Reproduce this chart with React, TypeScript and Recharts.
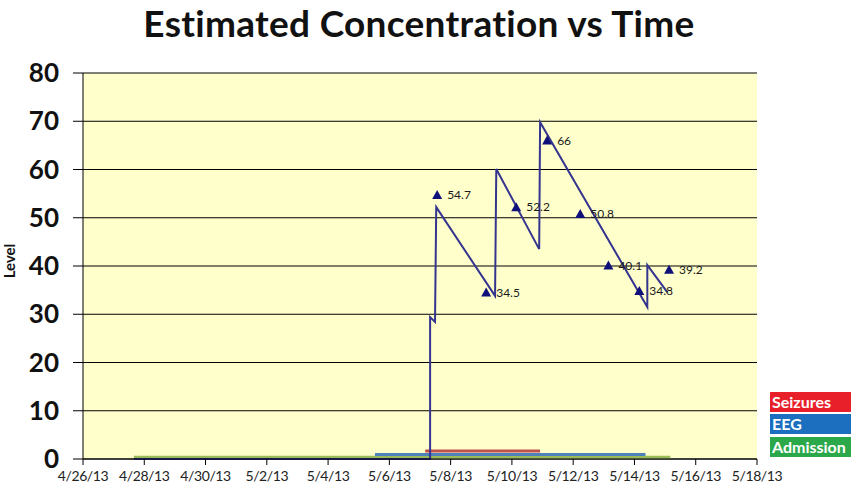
import { ComposedChart, Line, XAxis, YAxis, CartesianGrid } from 'recharts';

// days counted from 4/26/13
const tickDays = [0, 2, 4, 6, 8, 10, 12, 14, 16, 18, 20, 22];
const tickLabels = ['4/26/13', '4/28/13', '4/30/13', '5/2/13', '5/4/13', '5/6/13', '5/8/13', '5/10/13', '5/12/13', '5/14/13', '5/16/13', '5/18/13'];
const levelTicks = [0, 10, 20, 30, 40, 50, 60, 70, 80];

// estimated concentration curve (day, level)
const curveDays = [1.66, 11.33, 11.33, 11.49, 11.53, 13.45, 13.49, 14.89, 14.92, 18.42, 18.42, 19.07];
const curveLevels = [0, 0, 29.4, 28.4, 52.2, 33.8, 60.1, 43.5, 69.8, 31.5, 40.2, 34.6];

// measured levels
const measuredDays = [11.56, 13.16, 14.14, 15.15, 16.23, 17.15, 18.16, 19.13];
const measuredLevels = [54.7, 34.5, 52.2, 66, 50.8, 40.1, 34.8, 39.2];

// timeline bars: [start, end, level]
const seizures = [11.17, 14.92, 1.66];
const eeg = [9.53, 18.36, 0.93];
const admission = [1.66, 19.17, 0.35];

const curve = curveDays.map((x, i) => ({ x, y: curveLevels[i] }));
const measured = measuredDays.map((x, i) => ({ x, y: measuredLevels[i] }));
const span = (b: number[]) => [{ x: b[0], y: b[2] }, { x: b[1], y: b[2] }];

const font = 'Lato, "Open Sans", sans-serif';

const renderMarker = (props: any) => {
  const { cx, cy, payload, index } = props;
  if (cx == null || cy == null) return <g key={index} />;
  return (
    <g key={index}>
      <path d={`M${cx},${cy - 5} L${cx + 5},${cy + 4} L${cx - 5},${cy + 4} Z`} fill="#10107a" />
      <text x={cx + 10} y={cy + 4} fontSize={12} fontFamily={font} fill="#1a1a1a">
        {payload.y}
      </text>
    </g>
  );
};

const legendItems = [
  { name: 'Seizures', color: '#e8202a', top: 392 },
  { name: 'EEG', color: '#1c6ebe', top: 414 },
  { name: 'Admission', color: '#2ba84a', top: 437 },
];

export default function App() {
  return (
    <div style={{ position: 'absolute', left: 0, top: 0, width: 866, height: 498, background: '#fff', fontFamily: font }}>
      <div style={{ position: 'absolute', left: 0, top: 1, width: 838, textAlign: 'center', fontSize: 37, fontWeight: 700, color: '#111', lineHeight: '44px', letterSpacing: 0.3 }}>
        Estimated Concentration vs Time
      </div>
      <div style={{ position: 'absolute', left: -11, top: 252, width: 40, textAlign: 'center', fontSize: 15, fontWeight: 700, color: '#111', transform: 'rotate(-90deg)', lineHeight: '18px' }}>
        Level
      </div>
      <ComposedChart width={866} height={498} margin={{ top: 73, right: 109, bottom: 9, left: 0 }}>
        <CartesianGrid vertical={false} stroke="#000" fill="#ffffcc" />
        <XAxis
          type="number"
          dataKey="x"
          domain={[0, 22]}
          ticks={tickDays}
          tickFormatter={(v: number) => tickLabels[tickDays.indexOf(v)] ?? ''}
          height={30}
          tickSize={6}
          tickMargin={6}
          interval={0}
          allowDataOverflow
          stroke="#000"
          tick={{ fontSize: 14, fill: '#222', fontFamily: font, letterSpacing: -0.4 }}
        />
        <YAxis
          type="number"
          domain={[0, 80]}
          ticks={levelTicks}
          width={83}
          tickSize={10}
          tickMargin={14}
          interval={0}
          stroke="#000"
          tick={{ fontSize: 26, fontWeight: 700, fill: '#111', fontFamily: font }}
        />
        <Line data={span(admission)} dataKey="y" stroke="#9bbb59" strokeWidth={3} dot={false} activeDot={false} isAnimationActive={false} />
        <Line data={span(eeg)} dataKey="y" stroke="#4f81bd" strokeWidth={3} dot={false} activeDot={false} isAnimationActive={false} />
        <Line data={span(seizures)} dataKey="y" stroke="#c0504d" strokeWidth={3} dot={false} activeDot={false} isAnimationActive={false} />
        <Line data={curve} dataKey="y" type="linear" stroke="#35358f" strokeWidth={2} dot={false} activeDot={false} isAnimationActive={false} />
        <Line data={measured} dataKey="y" stroke="none" dot={renderMarker} activeDot={false} isAnimationActive={false} />
      </ComposedChart>
      {legendItems.map((l) => (
        <div key={l.name} style={{ position: 'absolute', left: 770, top: l.top, width: 81, height: 20, background: l.color, color: '#fff', fontSize: 16, fontWeight: 700, lineHeight: '20px', paddingLeft: 2, boxSizing: 'border-box' }}>
          {l.name}
        </div>
      ))}
    </div>
  );
}
